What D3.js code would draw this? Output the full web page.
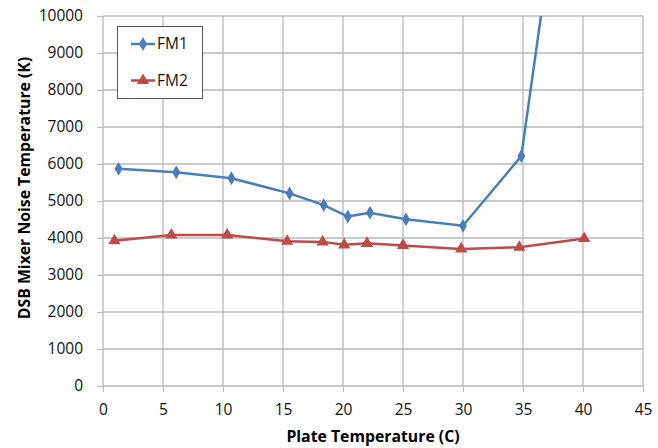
<html>
    <head>
        <style>
            body { margin: 0; background: #fff; }
            .chart text { font-family: "Open Sans", sans-serif; fill: #111; }
            .chart .tick text { font-size: 15.5px; }
            .chart .title { font-size: 15.8px; font-weight: bold; fill: #000; }
            .chart .axis path { display: none; }
            .chart .axis line { stroke: #b8b8b8; }
            .chart .grid line { stroke: #b8b8b8; stroke-width: 1.3; }
        </style>
    </head>
    <body>
        <svg class="chart" width="658" height="448"></svg>
        <script src="https://d3js.org/d3.v7.min.js"></script>
        <script>
            // values
            var fm1Temp  = [1.3, 6.1, 10.7, 15.55, 18.4, 20.4, 22.25, 25.25, 30.0, 34.86, 40.0];
            var fm1Noise = [5870, 5775, 5615, 5205, 4890, 4580, 4685, 4505, 4330, 6215, 18100];
            var fm2Temp  = [0.95, 5.7, 10.35, 15.35, 18.3, 20.1, 22.0, 25.0, 29.85, 34.7, 40.1];
            var fm2Noise = [3925, 4080, 4080, 3910, 3895, 3815, 3855, 3800, 3705, 3750, 3985];
            var xTicks = d3.range(0, 46, 5);
            var yTicks = d3.range(0, 10001, 1000);

            var plotLeft = 103, plotRight = 643, plotTop = 16, plotBottom = 386;

            var x = d3.scaleLinear().domain([0, 45]).range([plotLeft, plotRight]);
            var y = d3.scaleLinear().domain([0, 10000]).range([plotBottom, plotTop]);

            var chart = d3.select('.chart');

            chart.append('defs').append('clipPath').attr('id', 'plot')
                .append('rect')
                .attr('x', plotLeft).attr('y', plotTop)
                .attr('width', plotRight - plotLeft).attr('height', plotBottom - plotTop);

            // gridlines
            var grid = chart.append('g').attr('class', 'grid');
            grid.selectAll('.gx').data(xTicks).enter().append('line')
                .attr('x1', function(d) { return x(d) }).attr('x2', function(d) { return x(d) })
                .attr('y1', plotTop).attr('y2', plotBottom);
            grid.selectAll('.gy').data(yTicks).enter().append('line')
                .attr('x1', plotLeft).attr('x2', plotRight)
                .attr('y1', function(d) { return y(d) }).attr('y2', function(d) { return y(d) });

            // axes
            chart.append('g').attr('class', 'axis')
                .attr('transform', 'translate(0,' + plotBottom + ')')
                .call(d3.axisBottom(x).tickValues(xTicks).tickSize(6).tickPadding(10))
                .selectAll('text').attr('dy', '0.85em');
            chart.append('g').attr('class', 'axis')
                .attr('transform', 'translate(' + plotLeft + ',0)')
                .call(d3.axisLeft(y).tickValues(yTicks).tickFormat(d3.format('d')).tickSize(6).tickPadding(14));

            chart.append('text').attr('class', 'title')
                .attr('x', (plotLeft + plotRight) / 2).attr('y', 442)
                .attr('text-anchor', 'middle')
                .text('Plate Temperature (C)');
            chart.append('text').attr('class', 'title')
                .attr('transform', 'translate(30,188) rotate(-90)')
                .attr('text-anchor', 'middle')
                .text('DSB Mixer Noise Temperature (K)');

            var series = [
                { name: 'FM1', color: '#4a7ebb', temps: fm1Temp, noise: fm1Noise, marker: d3.symbolDiamond, size: 55 },
                { name: 'FM2', color: '#be4b48', temps: fm2Temp, noise: fm2Noise, marker: d3.symbolTriangle, size: 65 }
            ];

            var line = d3.line()
                .x(function(d) { return x(d[0]) })
                .y(function(d) { return y(d[1]) });

            var plot = chart.append('g').attr('clip-path', 'url(#plot)');

            series.forEach(function(s) {
                var pts = d3.zip(s.temps, s.noise);
                plot.append('path')
                    .datum(pts)
                    .attr('d', line)
                    .attr('fill', 'none')
                    .attr('stroke', s.color)
                    .attr('stroke-width', 2.5);
                plot.selectAll(null).data(pts).enter().append('path')
                    .attr('d', d3.symbol().type(s.marker).size(s.size))
                    .attr('transform', function(d) { return 'translate(' + x(d[0]) + ',' + y(d[1]) + ')' })
                    .attr('fill', s.color);
            });

            // legend
            var legend = chart.append('g');
            legend.append('rect')
                .attr('x', 117.5).attr('y', 26.5).attr('width', 85).attr('height', 72)
                .attr('fill', '#fff').attr('stroke', '#555').attr('stroke-width', 1);
            series.forEach(function(s, i) {
                var ly = 44 + i * 36.5;
                legend.append('line')
                    .attr('x1', 131).attr('x2', 155).attr('y1', ly).attr('y2', ly)
                    .attr('stroke', s.color).attr('stroke-width', 2.5);
                legend.append('path')
                    .attr('d', d3.symbol().type(s.marker).size(s.size))
                    .attr('transform', 'translate(143,' + ly + ')')
                    .attr('fill', s.color);
                legend.append('text')
                    .attr('x', 157).attr('y', ly).attr('dy', '0.35em')
                    .style('font-size', '15.5px')
                    .text(s.name);
            });
        </script>
    </body>
</html>
